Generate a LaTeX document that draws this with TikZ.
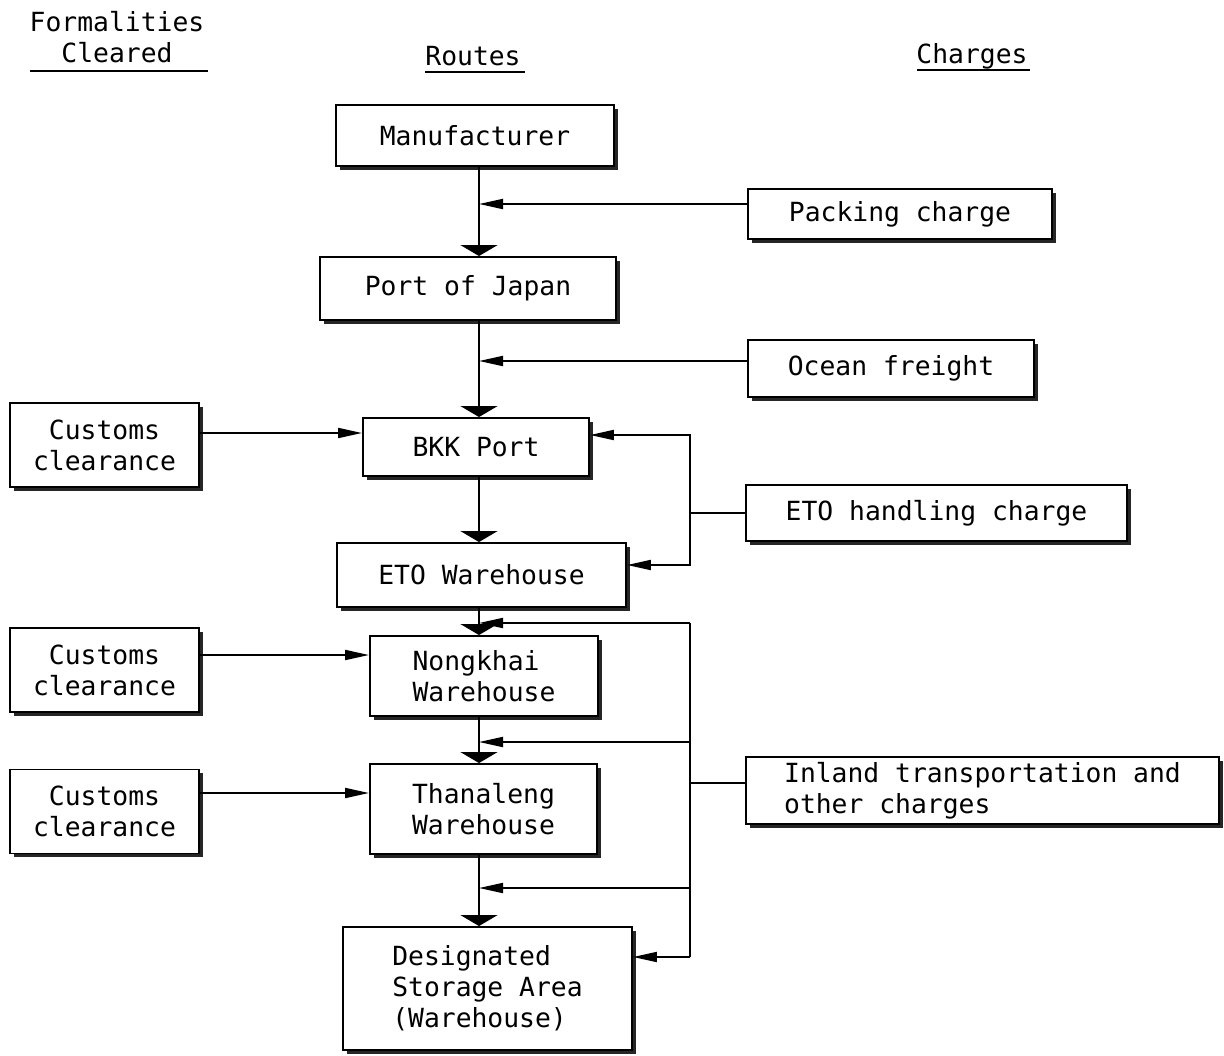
\documentclass[tikz,border=0pt]{standalone}
\usepackage{fontspec}
\setmonofont{DejaVu Sans Mono}
\usetikzlibrary{arrows.meta,shadows}

\begin{document}
\begin{tikzpicture}[
    font=\ttfamily\fontsize{15}{17.6}\selectfont,
    box/.style={draw,line width=1.1pt,fill=white,inner sep=0pt,
      drop shadow={shadow xshift=2.2pt,shadow yshift=-2.2pt,fill=black!85,opacity=1}},
    down/.style={line width=1.1pt,-{Triangle[length=0.22cm,width=0.74cm]}},
    side/.style={line width=1.1pt,-{Triangle[length=0.48cm,width=0.2cm]}},
    feed/.style={line width=1.1pt}]
    \useasboundingbox (0,0) rectangle (24.48,-21.10);

    % headings
    \node[align=center] (hform) at (2.34,-0.75) {Formalities\\Cleared};
    \node (hroute) at (9.46,-1.12) {Routes};
    \node (hcharge) at (19.44,-1.12) {Charges};
    \draw[feed] (0.60,-1.42) -- (4.16,-1.42);
    \draw[feed] (8.50,-1.44) -- (10.50,-1.44);
    \draw[feed] (18.34,-1.40) -- (20.60,-1.40);

    % routes
    \node[box,minimum width=5.56cm,minimum height=1.22cm] (mfr) at (9.50,-2.71) {Manufacturer};
    \node[box,minimum width=5.92cm,minimum height=1.26cm] (poj) at (9.36,-5.77) {Port of Japan};
    \node[box,minimum width=4.52cm,minimum height=1.16cm] (bkk) at (9.52,-8.94) {BKK Port};
    \node[box,minimum width=5.78cm,minimum height=1.28cm] (eto) at (9.63,-11.50) {ETO Warehouse};
    \node[box,minimum width=4.56cm,minimum height=1.60cm,align=left] (nong) at (9.68,-13.52) {Nongkhai\\Warehouse};
    \node[box,minimum width=4.54cm,minimum height=1.80cm,align=left] (than) at (9.67,-16.18) {Thanaleng\\Warehouse};
    \node[box,minimum width=5.78cm,minimum height=2.46cm,align=left] (dsa) at (9.75,-19.77) {Designated\\Storage Area\\(Warehouse)};

    % formalities
    \node[box,minimum width=3.78cm,minimum height=1.68cm,align=center] (cc1) at (2.09,-8.90) {Customs\\clearance};
    \node[box,minimum width=3.78cm,minimum height=1.68cm,align=center] (cc2) at (2.09,-13.40) {Customs\\clearance};
    \node[box,minimum width=3.78cm,minimum height=1.68cm,align=center] (cc3) at (2.09,-16.23) {Customs\\clearance};

    % charges
    \node[box,minimum width=6.08cm,minimum height=1.00cm] (pack) at (18.00,-4.28) {Packing charge};
    \node[box,minimum width=5.72cm,minimum height=1.14cm] (ocean) at (17.82,-7.37) {Ocean freight};
    \node[box,minimum width=7.62cm,minimum height=1.12cm] (etoh) at (18.73,-10.26) {ETO handling charge};
    \node[box,minimum width=9.46cm,minimum height=1.34cm,align=left] (inland) at (19.65,-15.81) {Inland transportation and\\other charges};

    % main flow
    \coordinate (trunk) at (9.58,0);
    \draw[down] (mfr.south -| trunk) -- (poj.north -| trunk);
    \draw[down] (poj.south -| trunk) -- (bkk.north -| trunk);
    \draw[down] (bkk.south -| trunk) -- (eto.north -| trunk);
    \draw[down] (eto.south -| trunk) -- (nong.north -| trunk);
    \draw[down] (nong.south -| trunk) -- (than.north -| trunk);
    \draw[down] (than.south -| trunk) -- (dsa.north -| trunk);

    % customs clearance
    \coordinate (k1) at (0,-8.66);
    \coordinate (k2) at (0,-13.10);
    \coordinate (k3) at (0,-15.86);
    \draw[side] (cc1.east |- k1) -- (bkk.west |- k1);
    \draw[side] (cc2.east |- k2) -- (nong.west |- k2);
    \draw[side] (cc3.east |- k3) -- (than.west |- k3);

    % packing and freight
    \coordinate (p1) at (9.58,-4.08);
    \coordinate (p2) at (9.58,-7.22);
    \draw[side] (pack.west |- p1) -- (p1);
    \draw[side] (ocean.west |- p2) -- (p2);

    % handling charge
    \coordinate (b1) at (13.80,-8.70);
    \coordinate (b2) at (13.80,-11.30);
    \draw[side] (etoh.west) -| (b1) -- (bkk.east |- b1);
    \draw[side] (b1) |- (eto.east |- b2);

    % inland transportation
    \coordinate (c0) at (13.80,-15.66);
    \coordinate (c1) at (13.80,-12.46);
    \coordinate (c2) at (13.80,-14.84);
    \coordinate (c3) at (13.80,-17.76);
    \coordinate (c4) at (13.80,-19.14);
    \draw[feed] (inland.west |- c0) -- (c0);
    \draw[feed] (c1) -- (c4);
    \draw[side] (c1) -- (c1 -| trunk);
    \draw[side] (c2) -- (c2 -| trunk);
    \draw[side] (c3) -- (c3 -| trunk);
    \draw[side] (c4) -- (dsa.east |- c4);
\end{tikzpicture}
\end{document}
